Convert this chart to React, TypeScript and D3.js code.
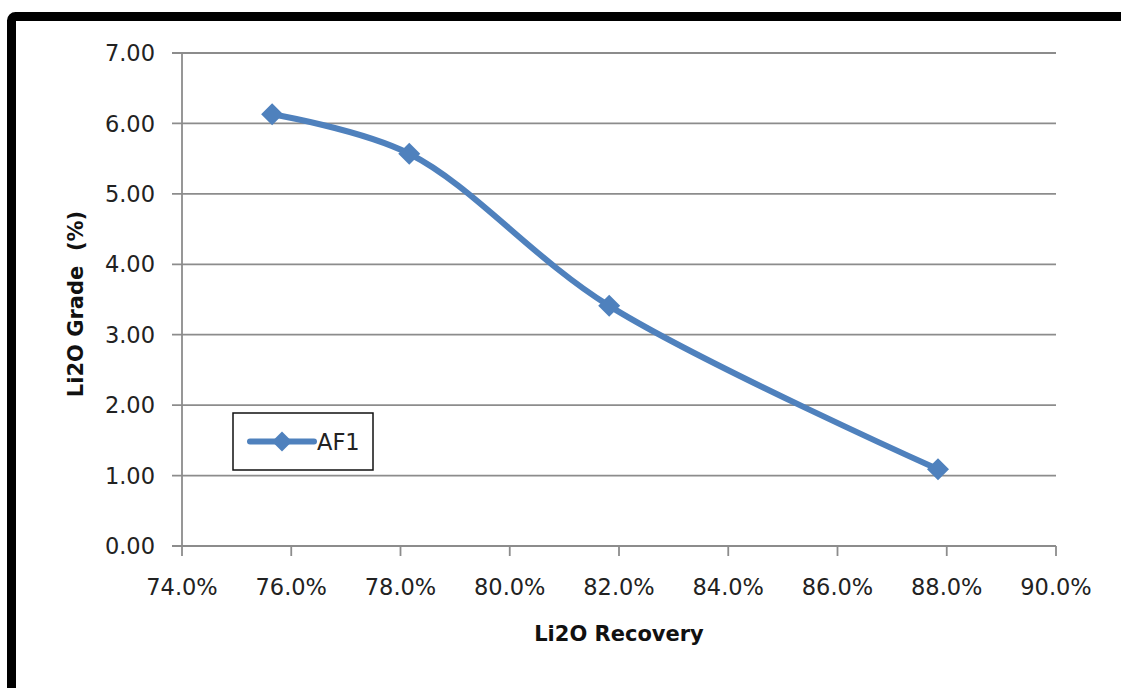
import React from "react";
import * as d3 from "d3";

const recovery = [75.65, 78.16, 81.82, 87.84];
const grade = [6.13, 5.57, 3.41, 1.09];
const xTicks = [74, 76, 78, 80, 82, 84, 86, 88, 90];
const yTicks = [0, 1, 2, 3, 4, 5, 6, 7];
const seriesName = "AF1";
const xTitle = "Li2O Recovery";
const yTitle = "Li2O Grade  (%)";

const W = 1121;
const H = 688;
const left = 182, right = 1056, top = 53, bottom = 546;
const BLUE = "#4F81BD";
const GRID = "#8c8c8c";
const FONT = "'DejaVu Sans', Verdana, sans-serif";

function diamond(cx: number, cy: number, r: number) {
  return `M${cx},${cy - r}L${cx + r},${cy}L${cx},${cy + r}L${cx - r},${cy}Z`;
}

export default function App() {
  const x = d3.scaleLinear().domain([74, 90]).range([left, right]);
  const y = d3.scaleLinear().domain([0, 7]).range([bottom, top]);
  const pts: [number, number][] = recovery.map((r, i) => [x(r), y(grade[i])]);
  const line = d3.line().curve(d3.curveCatmullRom.alpha(0.5))(pts) || "";

  const legX = 233, legY = 413, legW = 140, legH = 57;
  const legCy = legY + legH / 2;

  return (
    <svg width={W} height={H} style={{ position: "absolute", left: 0, top: 0, background: "#fff" }}>
      <rect x={0} y={0} width={W} height={H} fill="#fff" />
      <rect x={11.5} y={16.5} width={1300} height={900} rx={4} fill="none" stroke="#000" strokeWidth={9} />
      {yTicks.map((t) => (
        <g key={"y" + t}>
          <line x1={left - 10} x2={right} y1={y(t)} y2={y(t)} stroke={GRID} strokeWidth={1.8} />
          <text x={155} y={y(t)} dy="0.36em" textAnchor="end" fontFamily={FONT} fontSize={22.5} fill="#222">
            {t.toFixed(2)}
          </text>
        </g>
      ))}
      <line x1={left} x2={left} y1={top} y2={bottom} stroke={GRID} strokeWidth={1.8} />
      {xTicks.map((t) => (
        <g key={"x" + t}>
          <line x1={x(t)} x2={x(t)} y1={bottom} y2={bottom + 10} stroke={GRID} strokeWidth={1.8} />
          <text x={x(t)} y={595} textAnchor="middle" fontFamily={FONT} fontSize={22.5} fill="#222">
            {t.toFixed(1) + "%"}
          </text>
        </g>
      ))}
      <path d={line} fill="none" stroke={BLUE} strokeWidth={6} strokeLinejoin="round" />
      {pts.map(([px, py], i) => (
        <path key={"m" + i} d={diamond(px, py, 11)} fill={BLUE} />
      ))}
      <rect x={legX} y={legY} width={legW} height={legH} fill="#fff" stroke="#111" strokeWidth={1.5} />
      <line x1={250} x2={314} y1={legCy} y2={legCy} stroke={BLUE} strokeWidth={6} strokeLinecap="round" />
      <path d={diamond(282, legCy, 10)} fill={BLUE} />
      <text x={317} y={legCy} dy="0.36em" fontFamily={FONT} fontSize={22.5} fill="#222">
        {seriesName}
      </text>
      <text x={619} y={641} textAnchor="middle" fontFamily={FONT} fontWeight="bold" fontSize={21} fill="#111">
        {xTitle}
      </text>
      <text
        transform={`translate(83,304) rotate(-90)`}
        textAnchor="middle"
        fontFamily={FONT}
        fontWeight="bold"
        fontSize={21}
        fill="#111"
        style={{ whiteSpace: "pre" }}
      >
        {yTitle}
      </text>
    </svg>
  );
}
